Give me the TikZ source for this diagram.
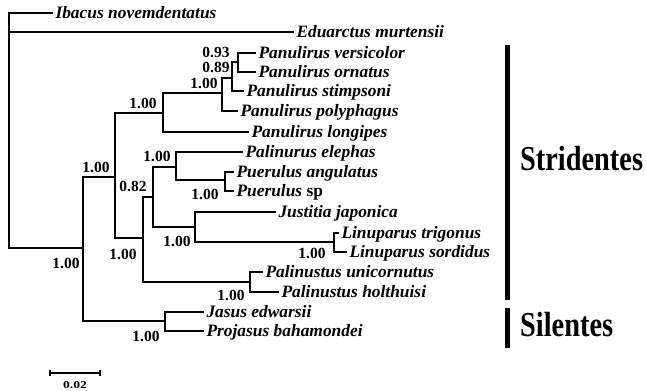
\documentclass[tikz,border=0pt]{standalone}
\usepackage{fontspec}
\setmainfont{Liberation Serif}
\usepackage{graphicx}
\begin{document}
\begin{tikzpicture}[x=1pt,y=-1pt,
  br/.style={line width=2.9pt, line join=miter, line cap=rect},
  leaf/.style={anchor=west, inner sep=3.5pt, outer sep=0pt, font=\fontsize{17.4}{20}\selectfont\bfseries\itshape, text height=11.3pt, text depth=0pt},
  bsv/.style={inner sep=0pt, font=\fontsize{15.5}{18}\selectfont\bfseries, text height=10.5pt, text depth=0pt},
  grp/.style={anchor=west, inner sep=0pt, font=\fontsize{35}{40}\selectfont\bfseries, text height=21pt, text depth=0pt},
  bar/.style={line width=5pt},
  sbar/.style={line width=1.5pt}
]
\useasboundingbox (0,0) rectangle (646,391);

% internal nodes
\coordinate (root) at (9,130);
\coordinate (P) at (83,248);
\coordinate (S) at (115,177);
\coordinate (Pan) at (163,113);
\coordinate (Pan2) at (222,93);
\coordinate (Pan3) at (232,78);
\coordinate (Pan4) at (238,62);
\coordinate (C) at (143,238);
\coordinate (D) at (153,197);
\coordinate (E) at (176,167);
\coordinate (Pue) at (225,180);
\coordinate (F) at (195,227);
\coordinate (Lin) at (334,242);
\coordinate (Pal) at (250,282);
\coordinate (Sil) at (165,321);

% leaves
\node[leaf] (ibacus) at (52,13) {Ibacus novemdentatus};
\node[leaf] (eduarctus) at (293,32) {Eduarctus murtensii};
\node[leaf] (versicolor) at (255,53) {Panulirus versicolor};
\node[leaf] (ornatus) at (255,72) {Panulirus ornatus};
\node[leaf] (stimpsoni) at (243,91) {Panulirus stimpsoni};
\node[leaf] (polyphagus) at (237,111) {Panulirus polyphagus};
\node[leaf] (longipes) at (248,132) {Panulirus longipes};
\node[leaf] (elephas) at (242,152) {Palinurus elephas};
\node[leaf] (angulatus) at (233,172) {Puerulus angulatus};
\node[leaf] (puesp) at (233,191) {Puerulus \textup{sp}};
\node[leaf] (justitia) at (275,212) {Justitia japonica};
\node[leaf] (trigonus) at (338,233) {Linuparus trigonus};
\node[leaf] (sordidus) at (346,252) {Linuparus sordidus};
\node[leaf] (unicornutus) at (262,272) {Palinustus unicornutus};
\node[leaf] (holthuisi) at (278,292) {Palinustus holthuisi};
\node[leaf] (jasus) at (203,312) {Jasus edwarsii};
\node[leaf] (projasus) at (203,331) {Projasus bahamondei};

% branches
\draw[br] (root) |- (ibacus.west);
\draw[br] (root) |- (eduarctus.west);
\draw[br] (root) |- (P);
\draw[br] (P) |- (S);
\draw[br] (P) |- (Sil);
\draw[br] (S) |- (Pan);
\draw[br] (S) |- (C);
\draw[br] (Pan) |- (Pan2);
\draw[br] (Pan) |- (longipes.west);
\draw[br] (Pan2) |- (Pan3);
\draw[br] (Pan2) |- (polyphagus.west);
\draw[br] (Pan3) |- (Pan4);
\draw[br] (Pan3) |- (stimpsoni.west);
\draw[br] (Pan4) |- (versicolor.west);
\draw[br] (Pan4) |- (ornatus.west);
\draw[br] (C) |- (D);
\draw[br] (C) |- (Pal);
\draw[br] (D) |- (E);
\draw[br] (D) |- (F);
\draw[br] (E) |- (elephas.west);
\draw[br] (E) |- (Pue);
\draw[br] (Pue) |- (angulatus.west);
\draw[br] (Pue) |- (puesp.west);
\draw[br] (F) |- (justitia.west);
\draw[br] (F) |- (Lin);
\draw[br] (Lin) |- (trigonus.west);
\draw[br] (Lin) |- (sordidus.west);
\draw[br] (Pal) |- (unicornutus.west);
\draw[br] (Pal) |- (holthuisi.west);
\draw[br] (Sil) |- (jasus.west);
\draw[br] (Sil) |- (projasus.west);

% support values
\node[bsv] (lP) at (66,263) {1.00};
\node[bsv] (lS) at (96,167) {1.00};
\node[bsv] (lPan) at (143,103) {1.00};
\node[bsv] (lPan2) at (204,83) {1.00};
\node[bsv] (lPan3) at (216,67) {0.89};
\node[bsv] (lPan4) at (216,52) {0.93};
\node[bsv] (lD) at (133,186) {0.82};
\node[bsv] (lE) at (157,156) {1.00};
\node[bsv] (lPue) at (205,194) {1.00};
\node[bsv] (lF) at (177,241) {1.00};
\node[bsv] (lC) at (123,254) {1.00};
\node[bsv] (lLin) at (312,253) {1.00};
\node[bsv] (lPal) at (231,295) {1.00};
\node[bsv] (lSil) at (146,336) {1.00};

% group bars
\draw[bar] (507.5,45) -- (507.5,300);
\draw[bar] (507.5,308) -- (507.5,348);
\node[grp] (strid) at (520,160) {\scalebox{0.81}[1]{Stridentes}};
\node[grp] (silen) at (520,326) {\scalebox{0.81}[1]{Silentes}};

% scale bar
\draw[sbar] (50,373) -- (100,373);
\draw[sbar] (50,370) -- (50,376);
\draw[sbar] (100,370) -- (100,376);
\node[inner sep=0pt, font=\fontsize{10.5}{12}\selectfont\bfseries] (sc) at (75,385) {\scalebox{1.3}[1]{0.02}};
\end{tikzpicture}
\end{document}
